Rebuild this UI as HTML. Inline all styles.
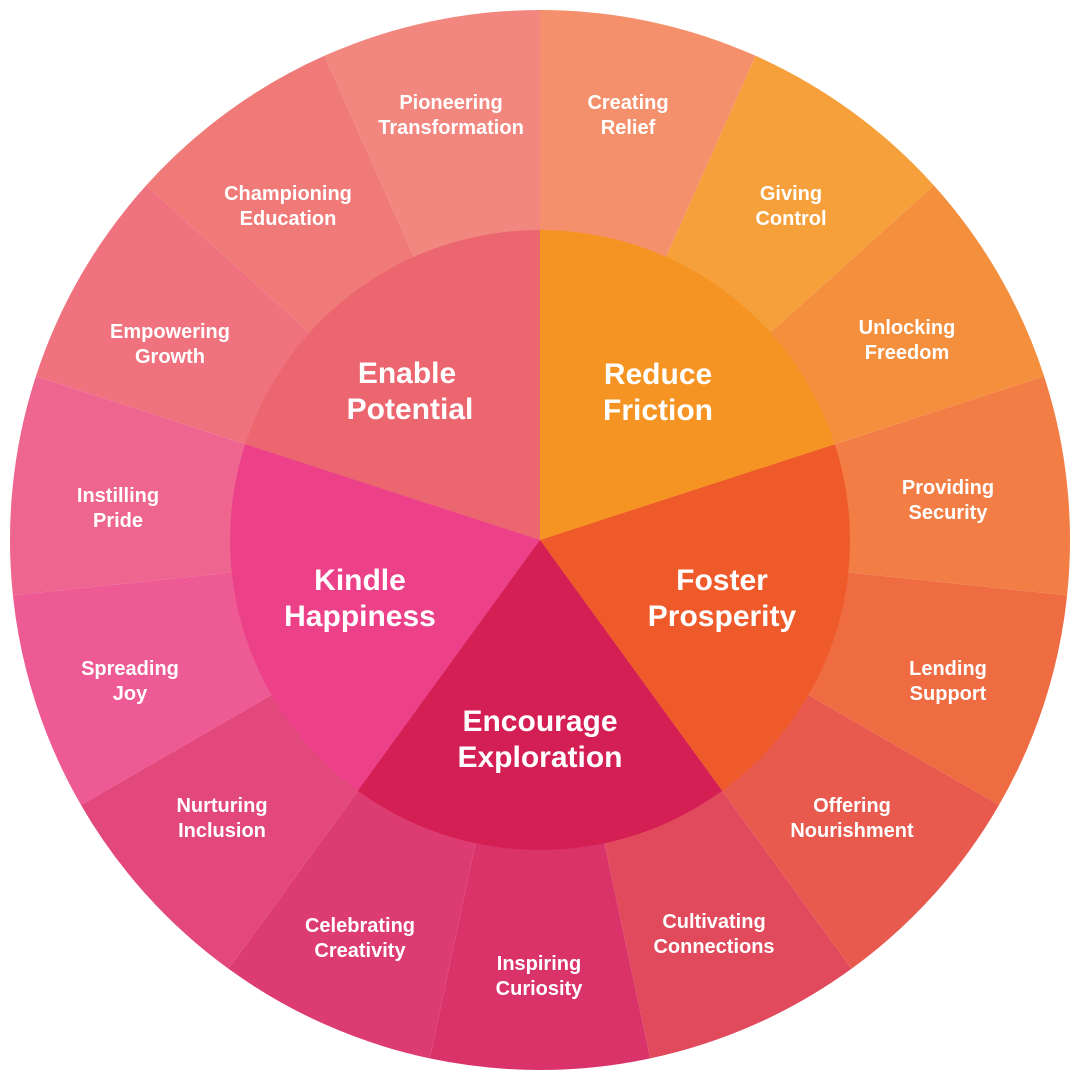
<!DOCTYPE html>
<html><head><meta charset="utf-8"><style>
html,body{margin:0;padding:0;background:#fff;width:1080px;height:1080px;overflow:hidden}
svg text{font-family:"Liberation Sans",sans-serif;fill:#fff;text-anchor:middle}
.o{font-size:20px;font-weight:bold}
.i{font-size:30px;font-weight:bold}
</style></head><body>
<svg width="1080" height="1080" viewBox="0 0 1080 1080" xmlns="http://www.w3.org/2000/svg">
<g>
<path d="M540,540 L540,10 A530,530 0 0 0 324.4,55.8 Z" fill="#f2877f"/>
<path d="M540,540 L324.4,55.8 A530,530 0 0 0 146.2,185.4 Z" fill="#f07a78"/>
<path d="M540,540 L146.2,185.4 A530,530 0 0 0 35.9,376.2 Z" fill="#ef727e"/>
<path d="M540,540 L35.9,376.2 A530,530 0 0 0 12.9,595.4 Z" fill="#ee6590"/>
<path d="M540,540 L12.9,595.4 A530,530 0 0 0 81,805 Z" fill="#ee5a93"/>
<path d="M540,540 L81,805 A530,530 0 0 0 228.5,968.8 Z" fill="#e3487c"/>
<path d="M540,540 L228.5,968.8 A530,530 0 0 0 429.8,1058.4 Z" fill="#dd3c72"/>
<path d="M540,540 L429.8,1058.4 A530,530 0 0 0 650.2,1058.4 Z" fill="#d9336a"/>
<path d="M540,540 L650.2,1058.4 A530,530 0 0 0 851.5,968.8 Z" fill="#e04a5c"/>
<path d="M540,540 L851.5,968.8 A530,530 0 0 0 999,805 Z" fill="#e8594e"/>
<path d="M540,540 L999,805 A530,530 0 0 0 1067.1,595.4 Z" fill="#ef6b42"/>
<path d="M540,540 L1067.1,595.4 A530,530 0 0 0 1044.1,376.2 Z" fill="#f27e45"/>
<path d="M540,540 L1044.1,376.2 A530,530 0 0 0 933.8,185.4 Z" fill="#f48f3e"/>
<path d="M540,540 L933.8,185.4 A530,530 0 0 0 755.6,55.8 Z" fill="#f5a03a"/>
<path d="M540,540 L755.6,55.8 A530,530 0 0 0 540,10 Z" fill="#f4916c"/>
</g>
<g>
<path d="M540,540 L540,230 A310,310 0 0 0 245.2,444.2 Z" fill="#ec6670"/>
<path d="M540,540 L245.2,444.2 A310,310 0 0 0 357.8,790.8 Z" fill="#ec4088"/>
<path d="M540,540 L357.8,790.8 A310,310 0 0 0 722.2,790.8 Z" fill="#d41f55"/>
<path d="M540,540 L722.2,790.8 A310,310 0 0 0 834.8,444.2 Z" fill="#ef5a2b"/>
<path d="M540,540 L834.8,444.2 A310,310 0 0 0 540,230 Z" fill="#f59422"/>
</g>
<g class="o">
<text x="451" y="109">Pioneering<tspan x="451" dy="25">Transformation</tspan></text>
<text x="628" y="109">Creating<tspan x="628" dy="25">Relief</tspan></text>
<text x="791" y="200">Giving<tspan x="791" dy="25">Control</tspan></text>
<text x="907" y="334">Unlocking<tspan x="907" dy="25">Freedom</tspan></text>
<text x="948" y="494">Providing<tspan x="948" dy="25">Security</tspan></text>
<text x="948" y="675">Lending<tspan x="948" dy="25">Support</tspan></text>
<text x="852" y="812">Offering<tspan x="852" dy="25">Nourishment</tspan></text>
<text x="714" y="928">Cultivating<tspan x="714" dy="25">Connections</tspan></text>
<text x="539" y="970">Inspiring<tspan x="539" dy="25">Curiosity</tspan></text>
<text x="360" y="932">Celebrating<tspan x="360" dy="25">Creativity</tspan></text>
<text x="222" y="812">Nurturing<tspan x="222" dy="25">Inclusion</tspan></text>
<text x="130" y="675">Spreading<tspan x="130" dy="25">Joy</tspan></text>
<text x="118" y="502">Instilling<tspan x="118" dy="25">Pride</tspan></text>
<text x="170" y="338">Empowering<tspan x="170" dy="25">Growth</tspan></text>
<text x="288" y="200">Championing<tspan x="288" dy="25">Education</tspan></text>
</g>
<g class="i">
<text x="407" y="383">Enable<tspan x="410" dy="36">Potential</tspan></text>
<text x="658" y="384">Reduce<tspan x="658" dy="36">Friction</tspan></text>
<text x="360" y="590">Kindle<tspan x="360" dy="36">Happiness</tspan></text>
<text x="722" y="590">Foster<tspan x="722" dy="36">Prosperity</tspan></text>
<text x="540" y="731">Encourage<tspan x="540" dy="36">Exploration</tspan></text>
</g>
</svg>
</body></html>
